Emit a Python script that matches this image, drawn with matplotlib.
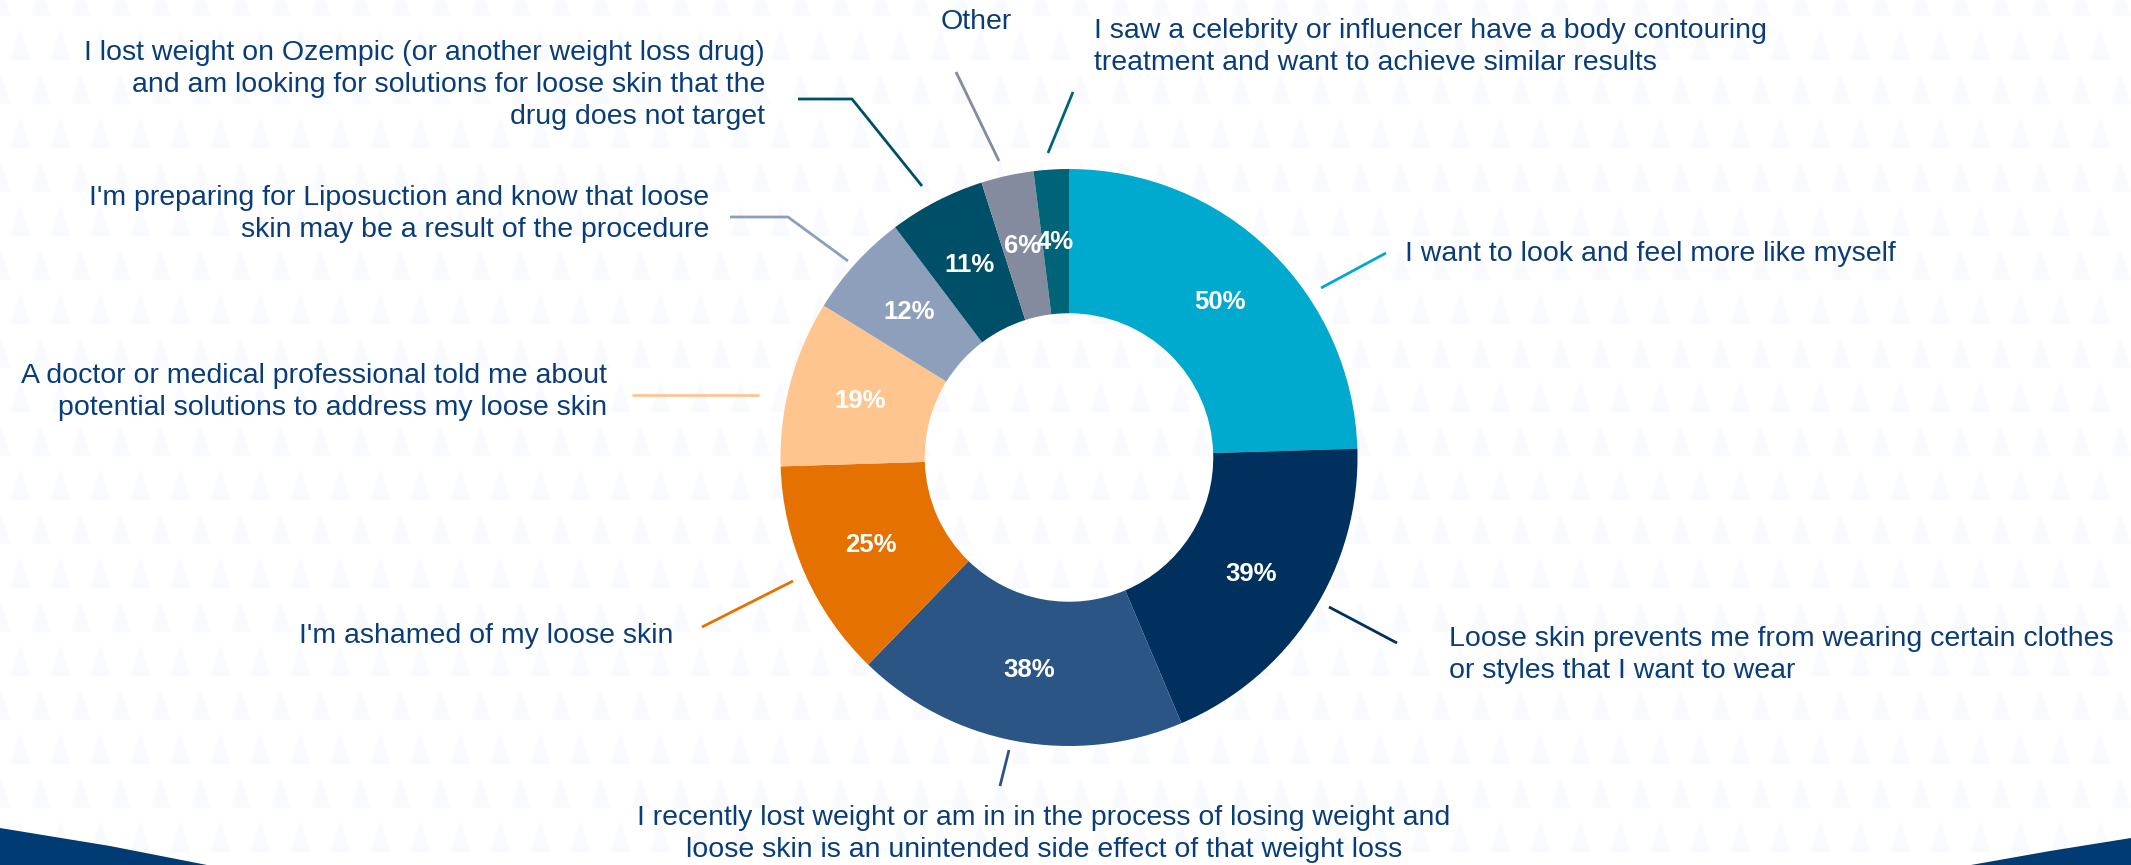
import numpy as np
import matplotlib.pyplot as plt
from matplotlib.patches import Polygon

# survey answers (share of respondents, multiple answers allowed)
values = [50, 39, 38, 25, 19, 12, 11, 6, 4]
labels = [
    "I want to look and feel more like myself",
    "Loose skin prevents me from wearing certain clothes\nor styles that I want to wear",
    "I recently lost weight or am in in the process of losing weight and\nloose skin is an unintended side effect of that weight loss",
    "I'm ashamed of my loose skin",
    "A doctor or medical professional told me about\npotential solutions to address my loose skin",
    "I'm preparing for Liposuction and know that loose\nskin may be a result of the procedure",
    "I lost weight on Ozempic (or another weight loss drug)\nand am looking for solutions for loose skin that the\ndrug does not target",
    "Other",
    "I saw a celebrity or influencer have a body contouring\ntreatment and want to achieve similar results",
]
colors = ['#00A9CE', '#00305E', '#2B5584', '#E57200', '#FFC58E',
          '#8E9FBB', '#004F68', '#858B9E', '#006479']

# label placement in pixels: (x, y, ha)
label_pos = [
    (1405, 254, 'left'),
    (1449, 655, 'left'),
    (1044, 834, 'center'),
    (673, 636, 'right'),
    (607, 392, 'right'),
    (709, 214, 'right'),
    (765, 85, 'right'),
    (976, 22, 'center'),
    (1094, 47, 'left'),
]
# leader lines in pixels
leaders = [
    [(1321, 288), (1386, 253)],
    [(1329, 607), (1397, 643)],
    [(1009, 750), (1000, 786)],
    [(793, 581), (702, 627)],
    [(759, 395), (632, 395)],
    [(848, 261), (788, 217), (730, 217)],
    [(922, 186), (852, 99), (798, 99)],
    [(999, 161), (956, 72)],
    [(1048, 153), (1073, 92)],
]

W, H = 2131, 865
text_color = '#0A3D78'
navy = '#003B73'
plt.rcParams['font.family'] = ['Liberation Sans', 'DejaVu Sans']

fig = plt.figure(figsize=(W / 100, H / 100), dpi=100)
fig.patch.set_facecolor('white')
bg = fig.add_axes([0, 0, 1, 1])
bg.set_xlim(0, W)
bg.set_ylim(H, 0)
bg.axis('off')

# very faint triangle pattern in the background
tri = [(-0.6, -1), (0.6, -1), (0, 1)]
gx, gy = np.meshgrid(np.arange(0, W + 40, 40), np.arange(0, H + 40, 44))
gx = gx + (np.arange(gx.shape[0])[:, None] % 2) * 20
bg.scatter(gx.ravel(), gy.ravel(), marker=tri, s=520, color='#F9FAFD',
           linewidths=0, zorder=0)

# navy corners at the bottom
bg.add_patch(Polygon([(0, 828), (110, 846), (207, 865), (0, 865)],
                     closed=True, color=navy, lw=0, zorder=1))
bg.add_patch(Polygon([(W, 838), (2050, 851), (1971, 865), (W, 865)],
                     closed=True, color=navy, lw=0, zorder=1))

# donut
cx, cy, R = 1069, 457.5, 288.5
pax = fig.add_axes([(cx - R) / W, 1 - (cy + R) / H, 2 * R / W, 2 * R / H])
pax.patch.set_alpha(0)
wedges, _ = pax.pie(values, colors=colors, startangle=90, counterclock=False,
                    radius=1, wedgeprops=dict(width=0.5, linewidth=0))
for w, v in zip(wedges, values):
    ang = np.deg2rad((w.theta1 + w.theta2) / 2)
    pax.text(0.75 * np.cos(ang), 0.75 * np.sin(ang), f"{v}%",
             ha='center', va='center', fontsize=18.5, fontweight='bold',
             color='white')
pax.set_xlim(-1, 1)
pax.set_ylim(-1, 1)

# labels and leader lines
for (x, y, ha), txt, pts, c in zip(label_pos, labels, leaders, colors):
    px, py = zip(*pts)
    bg.plot(px, py, color=c, lw=2, solid_capstyle='butt', zorder=2)
    bg.text(x, y, txt, ha=ha, va='center', fontsize=20.5, color=text_color,
            multialignment=ha, linespacing=1.3, zorder=3)

fig.savefig('out.png', dpi=100)
